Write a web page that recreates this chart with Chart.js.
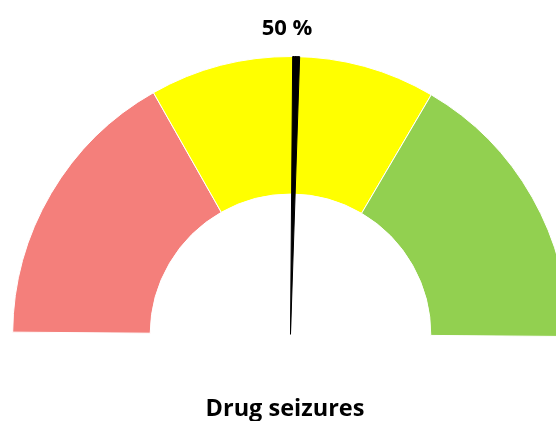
<!DOCTYPE html>
<html>
<head>
<meta charset="utf-8">
<script src="https://cdn.jsdelivr.net/npm/chart.js@4"></script>
<style>
  html, body { margin: 0; padding: 0; background: #fff; overflow: hidden; }
  #caja { position: relative; width: 581px; height: 421px; }
  #caja canvas { position: absolute; left: 0; top: 0; }
  .texto {
    position: absolute; width: 300px; left: 137px; text-align: center;
    font-family: 'Open Sans', sans-serif; font-weight: bold; color: #000;
    white-space: nowrap;
  }
  #titulo { top: 15px; font-size: 22px; line-height: 22px; }
  #pie { top: 395px; font-size: 23.5px; line-height: 24px; left: 135px; }
</style>
</head>
<body>
<div id="caja">
  <canvas id="gauge"></canvas>
  <canvas id="aguja"></canvas>
  <div class="texto" id="titulo"></div>
  <div class="texto" id="pie"></div>
</div>
<script>
// datos del gauge
const tramos = ["Bajo", "Medio", "Alto"];
const tramosValores = [33.33, 33.33, 33.34];
const tramosColores = ["#F47F7B", "#FFFF00", "#92D050"];

const valor = 50;       // posición de la aguja (%)
const anchoAguja = 0.8; // ancho de la aguja (%)
const etiqueta = "Drug seizures";

document.getElementById("titulo").textContent = valor + " %";
document.getElementById("pie").textContent = etiqueta;

// opciones comunes para que ambos gráficos tengan la misma geometría
function opcionesBase(cutout) {
    return {
        responsive: false,
        animation: false,
        rotation: -89.55,
        circumference: 180,
        cutout: cutout,
        layout: { padding: { top: 56, bottom: 84, left: 0, right: 0 } },
        plugins: {
            legend: { display: false },
            tooltip: { enabled: false }
        }
    };
}

function tamano(id) {
    const c = document.getElementById(id);
    c.width = 581;
    c.height = 421;
    return c;
}

new Chart(tamano("gauge"), {
    type: "doughnut",
    data: {
        labels: tramos,
        datasets: [{
            data: tramosValores,
            backgroundColor: tramosColores,
            borderColor: "#fff",
            borderWidth: 1
        }]
    },
    options: opcionesBase("50.5%")
});

// aguja: un pie con una sola porción negra
const agujaValores = [valor, anchoAguja, 100 - valor - anchoAguja];

new Chart(tamano("aguja"), {
    type: "pie",
    data: {
        labels: ["", "aguja", ""],
        datasets: [{
            data: agujaValores,
            backgroundColor: ["rgba(0,0,0,0)", "#000", "rgba(0,0,0,0)"],
            borderWidth: 1,
            borderColor: ["rgba(0,0,0,0)", "#000", "rgba(0,0,0,0)"]
        }]
    },
    options: opcionesBase(0)
});
</script>
</body>
</html>
